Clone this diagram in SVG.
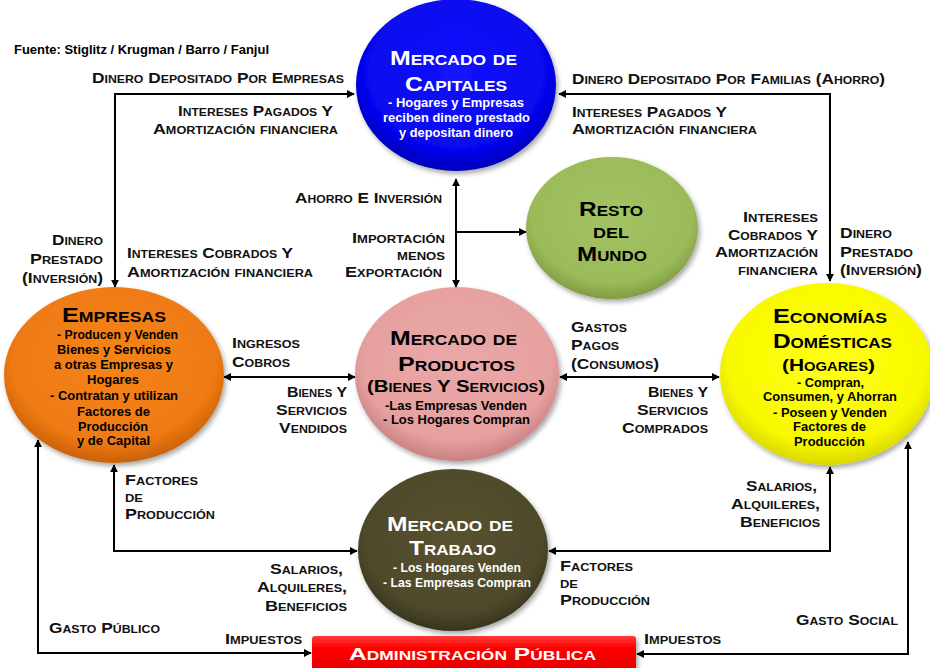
<svg xmlns="http://www.w3.org/2000/svg" width="930" height="668" viewBox="0 0 930 668">
<style>
text { font-family: "Liberation Sans", Arial, sans-serif; font-weight: bold; }
.lb { font-size: 15.5px; font-variant: small-caps; fill: #111; }
.tt { font-size: 20px; font-variant: small-caps; }
.st { font-size: 17px; font-variant: small-caps; }
.bd { font-size: 13px; }
.w { fill: #fff; }
.k { fill: #000; }
.ln { fill: none; stroke: #000; stroke-width: 2; marker-start: url(#ah); marker-end: url(#ah); }
.ln1 { fill: none; stroke: #000; stroke-width: 2; marker-end: url(#ah); }
.ov { filter: url(#sh); }
</style>
<defs>
<marker id="ah" viewBox="0 0 10 10" refX="9" refY="5" markerWidth="8" markerHeight="8" markerUnits="userSpaceOnUse" orient="auto-start-reverse"><path d="M0,0 L10,5 L0,10 z" fill="#000"/></marker>
<filter id="sh" x="-10%" y="-10%" width="130%" height="130%"><feDropShadow dx="2" dy="3" stdDeviation="2.5" flood-color="#000" flood-opacity="0.35"/></filter>
<radialGradient id="gBlue" cx="50%" cy="42%" r="58%"><stop offset="0" stop-color="#1414ff"/><stop offset="0.8" stop-color="#0606ee"/><stop offset="1" stop-color="#0000b8"/></radialGradient>
<radialGradient id="gGreen" cx="50%" cy="42%" r="58%"><stop offset="0" stop-color="#a3c263"/><stop offset="0.8" stop-color="#9bbb59"/><stop offset="1" stop-color="#7f9c44"/></radialGradient>
<radialGradient id="gOrange" cx="50%" cy="42%" r="58%"><stop offset="0" stop-color="#f58416"/><stop offset="0.8" stop-color="#ee7a12"/><stop offset="1" stop-color="#c9600a"/></radialGradient>
<radialGradient id="gPink" cx="50%" cy="42%" r="58%"><stop offset="0" stop-color="#eba8a8"/><stop offset="0.8" stop-color="#e6a0a0"/><stop offset="1" stop-color="#c88080"/></radialGradient>
<radialGradient id="gYellow" cx="50%" cy="42%" r="58%"><stop offset="0" stop-color="#ffff10"/><stop offset="0.8" stop-color="#f8f800"/><stop offset="1" stop-color="#d8d800"/></radialGradient>
<radialGradient id="gOlive" cx="50%" cy="42%" r="58%"><stop offset="0" stop-color="#57522f"/><stop offset="0.8" stop-color="#4e4a2c"/><stop offset="1" stop-color="#37341e"/></radialGradient>
<linearGradient id="gRed" x1="0" y1="0" x2="0" y2="1"><stop offset="0" stop-color="#ff3a3a"/><stop offset="0.3" stop-color="#ff0000"/><stop offset="1" stop-color="#e00000"/></linearGradient>
</defs>
<rect width="930" height="668" fill="#fff"/>

<text class="bd k" x="14" y="54" font-size="12.5" textLength="255" lengthAdjust="spacingAndGlyphs">Fuente: Stiglitz / Krugman / Barro / Fanjul</text>

<g id="connectors">
<path class="ln" d="M115,287 V94 H354"/>
<path class="ln" d="M559,94 H830 V281"/>
<path class="ln" d="M456,179 V287"/>
<path class="ln1" d="M456,232 H526"/>
<path class="ln" d="M224,377 H355"/>
<path class="ln" d="M560,377 H719"/>
<path class="ln" d="M114,465 V551 H357"/>
<path class="ln" d="M549,551 H830 V467"/>
<path class="ln" d="M38,440 V653 H311"/>
<path class="ln" d="M908,442 V654 H637"/>
</g>

<g id="node-capitales">
<ellipse class="ov" cx="456" cy="85" rx="100" ry="86" fill="url(#gBlue)"/>
<text class="tt w" x="390" y="65" textLength="127" lengthAdjust="spacingAndGlyphs">Mercado de</text>
<text class="tt w" x="405" y="91" textLength="102" lengthAdjust="spacingAndGlyphs">Capitales</text>
<text class="bd w" x="388" y="107" textLength="136" lengthAdjust="spacingAndGlyphs">- Hogares y Empresas</text>
<text class="bd w" x="383" y="122" textLength="147" lengthAdjust="spacingAndGlyphs">reciben dinero prestado</text>
<text class="bd w" x="399" y="137" textLength="114" lengthAdjust="spacingAndGlyphs">y depositan dinero</text>
</g>

<g id="node-resto">
<ellipse class="ov" cx="612" cy="228" rx="86" ry="71" fill="url(#gGreen)"/>
<text class="tt k" x="579" y="216" textLength="64" lengthAdjust="spacingAndGlyphs">Resto</text>
<text class="tt k" x="593" y="238" textLength="36" lengthAdjust="spacingAndGlyphs">del</text>
<text class="tt k" x="577" y="261" textLength="70" lengthAdjust="spacingAndGlyphs">Mundo</text>
</g>

<g id="node-empresas">
<ellipse class="ov" cx="114" cy="375" rx="110" ry="88" fill="url(#gOrange)"/>
<text class="tt k" x="62" y="322" textLength="104" lengthAdjust="spacingAndGlyphs">Empresas</text>
<text class="bd k" x="57" y="339" textLength="121" lengthAdjust="spacingAndGlyphs">- Producen y Venden</text>
<text class="bd k" x="57" y="354" textLength="114" lengthAdjust="spacingAndGlyphs">Bienes y Servicios</text>
<text class="bd k" x="54" y="369" textLength="119" lengthAdjust="spacingAndGlyphs">a otras Empresas y</text>
<text class="bd k" x="87" y="384" textLength="52" lengthAdjust="spacingAndGlyphs">Hogares</text>
<text class="bd k" x="50" y="400" textLength="128" lengthAdjust="spacingAndGlyphs">- Contratan y utilizan</text>
<text class="bd k" x="77" y="416" textLength="73" lengthAdjust="spacingAndGlyphs">Factores de</text>
<text class="bd k" x="78" y="431" textLength="70" lengthAdjust="spacingAndGlyphs">Producción</text>
<text class="bd k" x="77" y="445" textLength="73" lengthAdjust="spacingAndGlyphs">y de Capital</text>
</g>

<g id="node-productos">
<ellipse class="ov" cx="457" cy="374" rx="102" ry="87" fill="url(#gPink)"/>
<text class="tt k" x="390" y="345" textLength="127" lengthAdjust="spacingAndGlyphs">Mercado de</text>
<text class="tt k" x="398" y="371" font-size="22" textLength="117" lengthAdjust="spacingAndGlyphs">Productos</text>
<text class="st k" x="367" y="392" textLength="178" lengthAdjust="spacingAndGlyphs">(Bienes Y Servicios)</text>
<text class="bd k" x="385" y="410" textLength="142" lengthAdjust="spacingAndGlyphs">-Las Empresas Venden</text>
<text class="bd k" x="383" y="424" textLength="147" lengthAdjust="spacingAndGlyphs">- Los Hogares Compran</text>
</g>

<g id="node-economias">
<ellipse class="ov" cx="827" cy="374" rx="107" ry="91" fill="url(#gYellow)"/>
<text class="tt k" x="773" y="323" textLength="114" lengthAdjust="spacingAndGlyphs">Economías</text>
<text class="tt k" x="773" y="348" textLength="119" lengthAdjust="spacingAndGlyphs">Domésticas</text>
<text class="st k" x="782" y="371" font-size="18" textLength="93" lengthAdjust="spacingAndGlyphs">(Hogares)</text>
<text class="bd k" x="797" y="387" textLength="67" lengthAdjust="spacingAndGlyphs">- Compran,</text>
<text class="bd k" x="763" y="401" textLength="134" lengthAdjust="spacingAndGlyphs">Consumen, y Ahorran</text>
<text class="bd k" x="773" y="417" textLength="114" lengthAdjust="spacingAndGlyphs">- Poseen y Venden</text>
<text class="bd k" x="793" y="431" textLength="73" lengthAdjust="spacingAndGlyphs">Factores de</text>
<text class="bd k" x="794" y="446" textLength="71" lengthAdjust="spacingAndGlyphs">Producción</text>
</g>

<g id="node-trabajo">
<ellipse class="ov" cx="453" cy="550" rx="95" ry="81" fill="url(#gOlive)"/>
<text class="tt w" x="387" y="531" textLength="126" lengthAdjust="spacingAndGlyphs">Mercado de</text>
<text class="tt w" x="409" y="555" textLength="87" lengthAdjust="spacingAndGlyphs">Trabajo</text>
<text class="bd w" x="393" y="572" textLength="128" lengthAdjust="spacingAndGlyphs">- Los Hogares Venden</text>
<text class="bd w" x="383" y="587" textLength="148" lengthAdjust="spacingAndGlyphs">- Las Empresas Compran</text>
</g>

<g id="node-admin">
<rect class="ov" x="312" y="636" width="324" height="40" rx="3" fill="url(#gRed)"/>
<text class="st w" x="349" y="660" font-size="18" textLength="247" lengthAdjust="spacingAndGlyphs">Administración Pública</text>
</g>

<g id="labels">
<text class="lb" x="92" y="83" textLength="252" lengthAdjust="spacingAndGlyphs">Dinero Depositado Por Empresas</text>
<text class="lb" x="178" y="116" textLength="155" lengthAdjust="spacingAndGlyphs">Intereses Pagados Y</text>
<text class="lb" x="153" y="134" textLength="185" lengthAdjust="spacingAndGlyphs">Amortización financiera</text>
<text class="lb" x="572" y="84" textLength="313" lengthAdjust="spacingAndGlyphs">Dinero Depositado Por Familias (Ahorro)</text>
<text class="lb" x="572" y="117" textLength="155" lengthAdjust="spacingAndGlyphs">Intereses Pagados Y</text>
<text class="lb" x="572" y="134" textLength="185" lengthAdjust="spacingAndGlyphs">Amortización financiera</text>
<text class="lb" x="295" y="203" textLength="147" lengthAdjust="spacingAndGlyphs">Ahorro E Inversión</text>
<text class="lb" x="52" y="245" textLength="51" lengthAdjust="spacingAndGlyphs">Dinero</text>
<text class="lb" x="30" y="264" textLength="73" lengthAdjust="spacingAndGlyphs">Prestado</text>
<text class="lb" x="22" y="283" textLength="81" lengthAdjust="spacingAndGlyphs">(Inversión)</text>
<text class="lb" x="127" y="258" textLength="166" lengthAdjust="spacingAndGlyphs">Intereses Cobrados Y</text>
<text class="lb" x="127" y="277" textLength="186" lengthAdjust="spacingAndGlyphs">Amortización financiera</text>
<text class="lb" x="352" y="243" textLength="93" lengthAdjust="spacingAndGlyphs">Importación</text>
<text class="lb" x="397" y="260" textLength="48" lengthAdjust="spacingAndGlyphs">menos</text>
<text class="lb" x="345" y="277" textLength="97" lengthAdjust="spacingAndGlyphs">Exportación</text>
<text class="lb" x="743" y="222" textLength="75" lengthAdjust="spacingAndGlyphs">Intereses</text>
<text class="lb" x="728" y="240" textLength="90" lengthAdjust="spacingAndGlyphs">Cobrados Y</text>
<text class="lb" x="715" y="257" textLength="103" lengthAdjust="spacingAndGlyphs">Amortización</text>
<text class="lb" x="738" y="275" textLength="80" lengthAdjust="spacingAndGlyphs">financiera</text>
<text class="lb" x="840" y="238" textLength="52" lengthAdjust="spacingAndGlyphs">Dinero</text>
<text class="lb" x="840" y="257" textLength="73" lengthAdjust="spacingAndGlyphs">Prestado</text>
<text class="lb" x="840" y="275" textLength="82" lengthAdjust="spacingAndGlyphs">(Inversión)</text>
<text class="lb" x="232" y="348" textLength="68" lengthAdjust="spacingAndGlyphs">Ingresos</text>
<text class="lb" x="232" y="367" textLength="58" lengthAdjust="spacingAndGlyphs">Cobros</text>
<text class="lb" x="287" y="397" textLength="60" lengthAdjust="spacingAndGlyphs">Bienes Y</text>
<text class="lb" x="276" y="415" textLength="71" lengthAdjust="spacingAndGlyphs">Servicios</text>
<text class="lb" x="279" y="433" textLength="68" lengthAdjust="spacingAndGlyphs">Vendidos</text>
<text class="lb" x="571" y="332" textLength="56" lengthAdjust="spacingAndGlyphs">Gastos</text>
<text class="lb" x="571" y="350" textLength="48" lengthAdjust="spacingAndGlyphs">Pagos</text>
<text class="lb" x="571" y="369" textLength="88" lengthAdjust="spacingAndGlyphs">(Consumos)</text>
<text class="lb" x="648" y="397" textLength="60" lengthAdjust="spacingAndGlyphs">Bienes Y</text>
<text class="lb" x="637" y="415" textLength="71" lengthAdjust="spacingAndGlyphs">Servicios</text>
<text class="lb" x="622" y="433" textLength="86" lengthAdjust="spacingAndGlyphs">Comprados</text>
<text class="lb" x="125" y="485" textLength="73" lengthAdjust="spacingAndGlyphs">Factores</text>
<text class="lb" x="125" y="502" textLength="18" lengthAdjust="spacingAndGlyphs">de</text>
<text class="lb" x="125" y="519" textLength="90" lengthAdjust="spacingAndGlyphs">Producción</text>
<text class="lb" x="270" y="574" textLength="73" lengthAdjust="spacingAndGlyphs">Salarios,</text>
<text class="lb" x="257" y="592" textLength="90" lengthAdjust="spacingAndGlyphs">Alquileres,</text>
<text class="lb" x="265" y="611" textLength="82" lengthAdjust="spacingAndGlyphs">Beneficios</text>
<text class="lb" x="49" y="633" textLength="111" lengthAdjust="spacingAndGlyphs">Gasto Público</text>
<text class="lb" x="225" y="644" textLength="77" lengthAdjust="spacingAndGlyphs">Impuestos</text>
<text class="lb" x="746" y="491" textLength="71" lengthAdjust="spacingAndGlyphs">Salarios,</text>
<text class="lb" x="731" y="509" textLength="89" lengthAdjust="spacingAndGlyphs">Alquileres,</text>
<text class="lb" x="740" y="527" textLength="80" lengthAdjust="spacingAndGlyphs">Beneficios</text>
<text class="lb" x="560" y="571" textLength="73" lengthAdjust="spacingAndGlyphs">Factores</text>
<text class="lb" x="560" y="588" textLength="18" lengthAdjust="spacingAndGlyphs">de</text>
<text class="lb" x="560" y="605" textLength="90" lengthAdjust="spacingAndGlyphs">Producción</text>
<text class="lb" x="796" y="625" textLength="102" lengthAdjust="spacingAndGlyphs">Gasto Social</text>
<text class="lb" x="644" y="644" textLength="77" lengthAdjust="spacingAndGlyphs">Impuestos</text>
</g>
</svg>
